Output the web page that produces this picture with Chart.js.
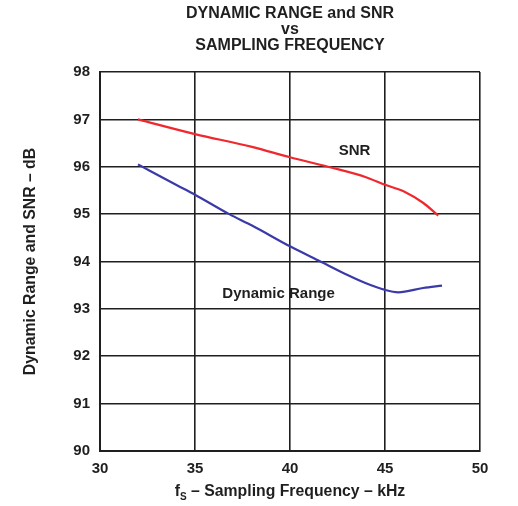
<!DOCTYPE html>
<html>
<head>
<meta charset="utf-8">
<script src="https://cdn.jsdelivr.net/npm/chart.js@4"></script>
<style>
  html, body { margin: 0; padding: 0; background: #fff; }
  #wrap { width: 518px; height: 506px; position: relative; }
</style>
</head>
<body>
<div id="wrap"><canvas id="chart"></canvas></div>
<script>
const titleLines = ['DYNAMIC RANGE and SNR', 'vs', 'SAMPLING FREQUENCY'];
const yAxisTitle = 'Dynamic Range and SNR \u2013 dB';
const xAxisTitle = ['f', 'S', ' \u2013 Sampling Frequency \u2013 kHz'];

const xTicks = [30, 35, 40, 45, 50];
const yTicks = [90, 91, 92, 93, 94, 95, 96, 97, 98];

const snrFreq = [32, 35, 38, 40, 42, 44, 45, 46, 47, 47.8];
const snrValues = [97.0, 96.69, 96.42, 96.2, 96.0, 95.78, 95.62, 95.48, 95.24, 94.97];

const drFreq = [32, 34, 35, 36.8, 38, 40, 41.6, 43, 44, 45, 45.7, 47, 48];
const drValues = [96.05, 95.62, 95.41, 95.0, 94.76, 94.32, 94.0, 93.72, 93.54, 93.4, 93.35, 93.44, 93.49];

const seriesLabels = [
  { text: 'SNR', x: 43.4, y: 96.33 },
  { text: 'Dynamic Range', x: 39.4, y: 93.32 },
];

const ink = '#1f1f1f';
const font = 'Liberation Sans, Arial, sans-serif';

const toPoints = (xs, ys) => xs.map((x, i) => ({ x, y: ys[i] }));

const textPlugin = {
  id: 'texts',
  afterDraw(chart) {
    const { ctx, chartArea, scales } = chart;
    const cx = (chartArea.left + chartArea.right) / 2;
    ctx.save();
    ctx.fillStyle = ink;
    ctx.textAlign = 'center';
    ctx.textBaseline = 'middle';

    // title
    ctx.font = `bold 16px ${font}`;
    titleLines.forEach((line, i) => ctx.fillText(line, cx, 14 + i * 15.7));

    // series labels
    ctx.font = `bold 15px ${font}`;
    seriesLabels.forEach((l) => {
      ctx.fillText(l.text, scales.x.getPixelForValue(l.x), scales.y.getPixelForValue(l.y));
    });

    // y axis title
    ctx.save();
    ctx.translate(31, (chartArea.top + chartArea.bottom) / 2);
    ctx.rotate(-Math.PI / 2);
    ctx.font = `bold 15.8px ${font}`;
    ctx.fillText(yAxisTitle, 0, 0);
    ctx.restore();

    // x axis title with subscript
    const big = `bold 15.8px ${font}`;
    const small = `bold 10px ${font}`;
    ctx.font = big;
    const w0 = ctx.measureText(xAxisTitle[0]).width;
    const w2 = ctx.measureText(xAxisTitle[2]).width;
    ctx.font = small;
    const w1 = ctx.measureText(xAxisTitle[1]).width;
    let x = cx - (w0 + w1 + w2) / 2;
    const y = 492;
    ctx.textAlign = 'left';
    ctx.font = big;
    ctx.fillText(xAxisTitle[0], x, y);
    x += w0;
    ctx.font = small;
    ctx.fillText(xAxisTitle[1], x, y + 5);
    x += w1;
    ctx.font = big;
    ctx.fillText(xAxisTitle[2], x, y);
    ctx.restore();
  },
};

const lineSet = (data, color) => ({
  data,
  borderColor: color,
  backgroundColor: color,
  borderWidth: 2.2,
  pointRadius: 0,
  fill: false,
  cubicInterpolationMode: 'monotone',
});

new Chart(document.getElementById('chart'), {
  type: 'line',
  data: {
    datasets: [
      lineSet(toPoints(snrFreq, snrValues), '#f0282e'),
      lineSet(toPoints(drFreq, drValues), '#3a3aa8'),
    ],
  },
  options: {
    responsive: true,
    maintainAspectRatio: false,
    animation: false,
    layout: { padding: { top: 72, right: 38, left: 0, bottom: 0 } },
    plugins: { legend: { display: false }, tooltip: { enabled: false } },
    scales: {
      x: {
        type: 'linear',
        min: 30,
        max: 50,
        afterFit: (s) => { s.height = 55; },
        afterBuildTicks: (s) => { s.ticks = xTicks.map((v) => ({ value: v })); },
        grid: { color: ink, lineWidth: 1.6, drawTicks: false },
        border: { color: ink, width: 2 },
        ticks: { color: ink, padding: 9, font: { family: font, size: 15, weight: 'bold' } },
      },
      y: {
        min: 90,
        max: 98,
        afterFit: (s) => { s.width = 100; },
        afterBuildTicks: (s) => { s.ticks = yTicks.map((v) => ({ value: v })); },
        grid: { color: ink, lineWidth: 1.6, drawTicks: false },
        border: { color: ink, width: 2 },
        ticks: { color: ink, padding: 10, font: { family: font, size: 15, weight: 'bold' } },
      },
    },
  },
  plugins: [textPlugin],
});
</script>
</body>
</html>
